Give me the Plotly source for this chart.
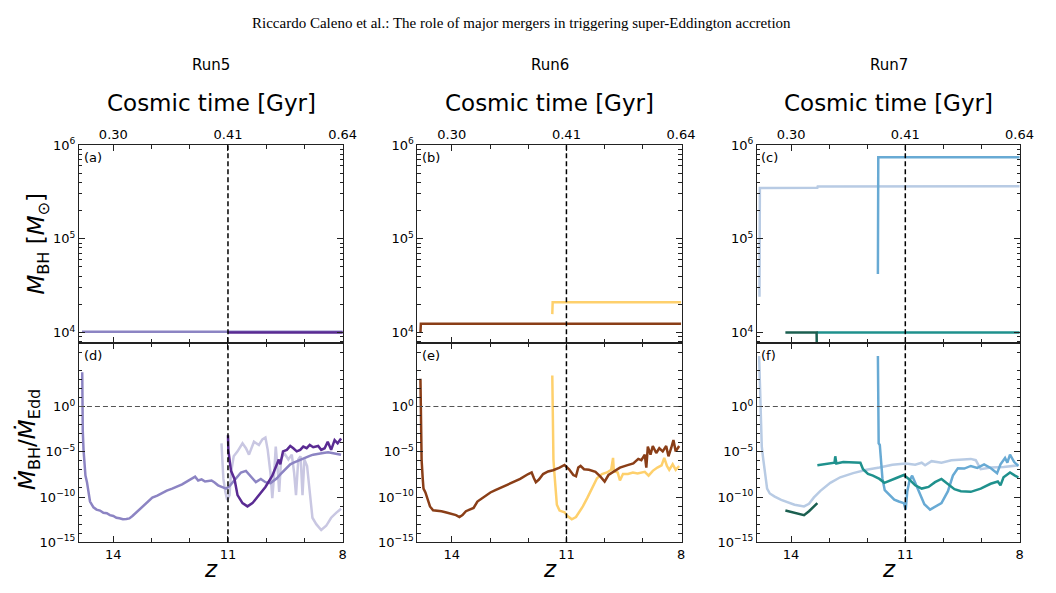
import plotly.graph_objects as go

# ---------------- data ----------------
RUN_NAMES = ["Run5", "Run6", "Run7"]
PANEL_TOP = ["(a)", "(b)", "(c)"]
PANEL_BOT = ["(d)", "(e)", "(f)"]
Z_TICKS = [14, 11, 8]
Z_MINOR = [13, 12, 10, 9]
COSMIC_LABELS = ["0.30", "0.41", "0.64"]
MERGER_Z = 11.0
EDD_RATIO = 1.0

# ---- Run5 ----
r5_mid_mz = [14.82, 8.0]
r5_mid_m = [1.02e4, 1.02e4]
r5_dark_mz = [11.0, 8.0]
r5_dark_m = [1.0e4, 1.0e4]

r5_mid_z = [14.814, 14.81, 14.80, 14.78, 14.76, 14.73, 14.69, 14.65, 14.61, 14.52, 14.44, 14.35, 14.26, 14.17,
            14.09, 14.0, 13.92, 13.84, 13.75, 13.66, 13.58, 13.5, 13.41, 13.32, 13.23, 13.1, 12.98, 12.85, 12.72,
            12.6, 12.46, 12.33, 12.2, 12.08, 11.95, 11.86, 11.78, 11.69, 11.6, 11.5, 11.43, 11.35, 11.26, 11.15,
            11.05, 10.96, 10.87, 10.76, 10.66, 10.53, 10.45, 10.36, 10.27, 10.14, 10.02, 9.89, 9.8, 9.72, 9.63,
            9.54, 9.45, 9.37, 9.28, 9.2, 9.07, 8.94, 8.86, 8.77, 8.64, 8.51, 8.38, 8.26, 8.15, 8.04]
r5_mid_log = [3.79, -0.14, -2.64, -4.79, -6.21, -7.64, -8.36, -9.61, -10.5, -11.14, -11.39, -11.5, -11.75, -11.8,
              -12.0, -12.1, -12.29, -12.35, -12.46, -12.42, -12.36, -12.1, -11.75, -11.4, -11.04, -10.5, -10.07,
              -9.85, -9.54, -9.3, -9.07, -8.85, -8.61, -8.3, -7.93, -7.75, -8.18, -8.05, -8.29, -8.2, -8.18, -8.4,
              -8.71, -8.9, -9.07, -8.8, -8.36, -7.8, -7.29, -7.11, -7.46, -7.9, -8.36, -8.0, -8.36, -8.46, -8.2,
              -7.93, -7.5, -7.11, -6.7, -6.39, -6.2, -6.04, -5.8, -5.57, -5.45, -5.32, -5.2, -5.14, -5.05, -5.14,
              -5.25, -5.32]

r5_dark_z = [11.0, 10.99, 10.95, 10.92, 10.83, 10.75, 10.62, 10.49, 10.36, 10.19, 10.02, 9.84, 9.76, 9.67, 9.63,
             9.56, 9.46, 9.37, 9.29, 9.2, 9.11, 9.03, 8.94, 8.86, 8.77, 8.64, 8.56, 8.47, 8.39, 8.3, 8.21, 8.13,
             8.04]
r5_dark_log = [-3.18, -4.79, -6.21, -7.11, -8.0, -9.79, -10.68, -11.04, -10.68, -9.79, -8.89, -7.64, -6.75, -5.86,
               -6.39, -4.96, -4.79, -4.36, -4.61, -4.96, -4.79, -4.43, -4.61, -4.25, -4.5, -4.36, -4.79, -4.61,
               -3.89, -4.79, -3.71, -4.07, -3.54]

r5_light_z = [11.17, 11.15, 11.12, 11.07, 11.02, 10.96, 10.92, 10.85, 10.75, 10.62, 10.53, 10.45, 10.32, 10.19,
              10.1, 10.02, 9.96, 9.89, 9.84, 9.8, 9.75, 9.7, 9.66, 9.61, 9.53, 9.42, 9.33, 9.27, 9.22, 9.16, 9.1,
              9.05, 9.0, 8.93, 8.86, 8.79, 8.69, 8.56, 8.43, 8.3, 8.17, 8.04]
r5_light_log = [-4.07, -5.86, -8.0, -9.43, -10.32, -9.79, -7.29, -5.5, -4.96, -4.07, -4.61, -5.32, -3.89, -4.25,
                -3.64, -3.43, -4.79, -7.29, -10.14, -8.0, -4.43, -6.93, -9.43, -5.86, -5.14, -5.86, -5.32, -7.29,
                -9.79, -5.86, -5.5, -9.79, -5.86, -6.57, -9.79, -12.29, -13.0, -13.64, -13.18, -12.29, -11.75,
                -11.29]

# ---- Run6 ----
r6_brown_mz = [14.82, 14.81, 8.0]
r6_brown_m = [9.9e3, 1.24e4, 1.24e4]
r6_yellow_mz = [11.37, 11.36, 8.0]
r6_yellow_m = [1.57e4, 2.1e4, 2.1e4]

r6_brown_z = [14.82, 14.81, 14.81, 14.79, 14.76, 14.74, 14.69, 14.63, 14.57, 14.49, 14.36, 14.27, 14.14, 14.02,
              13.89, 13.8, 13.72, 13.63, 13.54, 13.43, 13.33, 13.16, 12.99, 12.86, 12.73, 12.6, 12.47, 12.34,
              12.21, 12.0, 11.91, 11.85, 11.8, 11.72, 11.61, 11.48, 11.35, 11.18, 11.05, 10.93, 10.82, 10.75,
              10.69, 10.63, 10.54, 10.41, 10.24, 10.11, 10.0, 9.9, 9.77, 9.6, 9.42, 9.25, 9.12, 9.04, 8.95, 8.91,
              8.87, 8.8, 8.74, 8.65, 8.57, 8.48, 8.39, 8.33, 8.26, 8.2, 8.14, 8.05]
r6_brown_log = [3.07, -0.14, -3.71, -5.86, -8.0, -9.07, -9.5, -10.32, -11.04, -11.46, -11.5, -11.57, -11.71,
                -11.86, -12.0, -12.21, -12.0, -11.57, -11.39, -11.21, -10.5, -9.96, -9.5, -9.25, -9.0, -8.8, -8.54,
                -8.3, -8.0, -7.46, -7.29, -7.93, -8.36, -8.07, -7.46, -7.18, -7.04, -6.75, -6.46, -6.93, -7.57,
                -7.71, -6.75, -6.57, -6.93, -7.0, -7.21, -7.75, -8.29, -7.57, -7.21, -6.75, -6.5, -6.29, -5.79,
                -5.93, -5.32, -6.75, -4.43, -5.32, -4.36, -5.14, -4.61, -4.96, -4.36, -5.5, -4.61, -3.71, -4.96,
                -4.36]

r6_yellow_z = [11.37, 11.35, 11.34, 11.31, 11.29, 11.25, 11.18, 11.05, 10.97, 10.86, 10.75, 10.67, 10.57, 10.45,
               10.32, 10.2, 10.07, 9.94, 9.83, 9.78, 9.76, 9.66, 9.6, 9.52, 9.39, 9.26, 9.14, 8.95, 8.85, 8.74,
               8.62, 8.51, 8.44, 8.37, 8.31, 8.22, 8.14, 8.05]
r6_yellow_log = [3.43, -1.93, -5.86, -7.64, -8.89, -10.86, -11.5, -11.68, -12.11, -12.46, -12.21, -11.75, -11.04,
                 -10.07, -8.89, -7.93, -7.46, -7.29, -7.0, -5.68, -7.11, -7.29, -8.18, -7.46, -7.46, -7.29, -7.39,
                 -7.21, -7.64, -7.11, -6.75, -6.5, -5.68, -6.57, -7.0, -6.39, -7.0, -6.57]

# ---- Run7 ----
r7_lblue_mz = [14.83, 14.82, 13.31, 13.30, 8.0]
r7_lblue_m = [2.4e4, 3.48e5, 3.5e5, 3.61e5, 3.62e5]
r7_mblue_mz = [11.72, 11.71, 8.0]
r7_mblue_m = [4.2e4, 7.4e5, 7.4e5]
r7_teal_mz = [13.33, 8.0]
r7_teal_m = [1.0e4, 1.0e4]
r7_dgreen_mz = [14.15, 13.33, 13.32]
r7_dgreen_m = [1.0e4, 1.0e4, 5.0e3]

r7_lblue_z = [14.84, 14.82, 14.8, 14.77, 14.73, 14.69, 14.63, 14.56, 14.43, 14.26, 14.08, 13.91, 13.66, 13.53,
              13.4, 13.23, 12.97, 12.71, 12.37, 12.02, 11.68, 11.34, 10.99, 10.74, 10.57, 10.48, 10.31, 10.05,
              9.79, 9.54, 9.28, 9.15, 9.02, 8.76, 8.42, 8.03]
r7_lblue_log = [5.57, 1.64, -2.29, -4.43, -5.86, -7.29, -9.07, -9.61, -9.96, -10.32, -10.57, -10.86, -11.04,
                -10.75, -10.04, -9.32, -8.43, -7.82, -7.36, -7.0, -6.75, -6.43, -6.29, -6.43, -6.21, -6.5, -6.04,
                -6.21, -5.93, -5.86, -5.79, -5.93, -6.93, -6.75, -6.68, -6.5]

r7_mblue_z = [11.72, 11.71, 11.7, 11.67, 11.66, 11.63, 11.6, 11.54, 11.42, 11.29, 11.17, 11.04, 10.99, 10.95,
              10.89, 10.82, 10.74, 10.63, 10.5, 10.35, 10.22, 10.05, 9.88, 9.75, 9.62, 9.45, 9.28, 9.11, 8.93,
              8.76, 8.59, 8.5, 8.38, 8.32, 8.25, 8.14, 8.03]
r7_mblue_log = [5.57, -0.14, -4.07, -4.25, -4.79, -6.93, -8.0, -9.25, -9.79, -10.29, -10.5, -10.68, -11.39, -9.43,
                -8.18, -7.64, -8.43, -9.5, -10.79, -11.39, -11.04, -10.68, -9.36, -7.64, -6.82, -6.86, -6.57,
                -6.79, -6.39, -6.79, -7.36, -6.39, -5.68, -6.21, -5.32, -6.14, -6.57]

r7_teal_z = [13.31, 13.05, 12.86, 12.84, 12.81, 12.63, 12.37, 12.18, 12.11, 11.98, 11.85, 11.68, 11.55, 11.42,
             11.25, 11.04, 10.91, 10.74, 10.57, 10.39, 10.22, 10.05, 9.88, 9.71, 9.54, 9.28, 9.02, 8.76, 8.57,
             8.5, 8.42, 8.25, 8.12, 8.03]
r7_teal_log = [-6.5, -6.29, -6.21, -5.5, -6.29, -6.14, -6.14, -6.21, -6.93, -7.46, -7.64, -8.0, -8.43, -8.18,
               -7.93, -7.57, -8.0, -8.71, -9.07, -8.89, -8.36, -8.0, -8.54, -9.14, -9.36, -9.43, -9.07, -8.54,
               -8.29, -8.71, -7.82, -7.29, -7.64, -7.82]

r7_dgreen_z = [14.15, 13.99, 13.83, 13.66, 13.53, 13.4, 13.31]
r7_dgreen_log = [-11.5, -11.64, -11.86, -12.0, -11.57, -11.04, -10.68]

# series per run: (colour, width, mass z, mass, accretion z, log10 accretion)
RUN_SERIES = [
    [("#c9c7e2", 2.5, None, None, r5_light_z, r5_light_log),
     ("#8c84c3", 2.5, r5_mid_mz, r5_mid_m, r5_mid_z, r5_mid_log),
     ("#5a2b93", 2.5, r5_dark_mz, r5_dark_m, r5_dark_z, r5_dark_log)],
    [("#fed06c", 2.5, r6_yellow_mz, r6_yellow_m, r6_yellow_z, r6_yellow_log),
     ("#8a3e17", 2.5, r6_brown_mz, r6_brown_m, r6_brown_z, r6_brown_log)],
    [("#b8cbe4", 2.5, r7_lblue_mz, r7_lblue_m, r7_lblue_z, r7_lblue_log),
     ("#68aad4", 2.5, r7_mblue_mz, r7_mblue_m, r7_mblue_z, r7_mblue_log),
     ("#1f918d", 2.5, r7_teal_mz, r7_teal_m, r7_teal_z, r7_teal_log),
     ("#1b5f50", 2.5, r7_dgreen_mz, r7_dgreen_m, r7_dgreen_z, r7_dgreen_log)],
]

# ---------------- layout geometry ----------------
W, H = 1056, 593
X_DOM = [(80 / W, 348 / W), (423 / W, 691 / W), (767 / W, 1034 / W)]
Y_TOP = (1 - 344 / H, 1 - 140 / H)
Y_BOT = (1 - 549 / H, 1 - 344 / H)
X_RANGE = [14.9, 7.98]
FONT = "DejaVu Sans"
AX_COL = "#222"


def sfx(n):
    return "" if n == 1 else str(n)


fig = go.Figure()

for c in range(3):
    xt, yt = "x" + sfx(c + 1), "y" + sfx(c + 1)
    xb, yb = "x" + sfx(c + 4), "y" + sfx(c + 4)
    for col, w, mz, m, az, alog in RUN_SERIES[c]:
        if mz is not None:
            fig.add_trace(go.Scatter(x=mz, y=m, mode="lines", line=dict(color=col, width=w),
                                     xaxis=xt, yaxis=yt, hoverinfo="skip"))
        fig.add_trace(go.Scatter(x=az, y=[10 ** v for v in alog], mode="lines",
                                 line=dict(color=col, width=w), xaxis=xb, yaxis=yb, hoverinfo="skip"))

top_minor = [v * 10 ** e for e in (3, 4, 5) for v in range(2, 10) if 7.7e3 <= v * 10 ** e < 1e6]
bot_minor = [10.0 ** e for e in range(-14, 7) if e % 5 != 0]

common_ax = dict(showline=True, linecolor=AX_COL, linewidth=1, mirror="ticks", ticks="inside",
                 tickcolor=AX_COL, showgrid=False, zeroline=False,
                 tickfont=dict(family=FONT, size=13, color="black"))

layout = dict(width=W, height=H, margin=dict(l=0, r=0, t=0, b=0), paper_bgcolor="white",
              plot_bgcolor="white", showlegend=False)

for c in range(3):
    t, b = sfx(c + 1), sfx(c + 4)
    layout["xaxis" + t] = dict(common_ax, domain=X_DOM[c], anchor="y" + t, side="top",
                               range=X_RANGE, tickvals=Z_TICKS, ticktext=COSMIC_LABELS, ticklen=6,
                               minor=dict(tickvals=Z_MINOR, ticks="inside", ticklen=4, tickcolor=AX_COL))
    layout["yaxis" + t] = dict(common_ax, domain=Y_TOP, anchor="x" + t, type="log",
                               range=[3.886, 6], tickvals=[1e4, 1e5, 1e6],
                               ticktext=["10<sup>4</sup>", "10<sup>5</sup>", "10<sup>6</sup>"], ticklen=6,
                               minor=dict(tickvals=top_minor, ticks="inside", ticklen=3.5, tickcolor=AX_COL))
    layout["xaxis" + b] = dict(common_ax, domain=X_DOM[c], anchor="y" + b, side="bottom",
                               range=X_RANGE, tickvals=Z_TICKS, ticktext=[str(v) for v in Z_TICKS],
                               ticklen=6,
                               minor=dict(tickvals=Z_MINOR, ticks="inside", ticklen=4, tickcolor=AX_COL))
    layout["yaxis" + b] = dict(common_ax, domain=Y_BOT, anchor="x" + b, type="log",
                               range=[-15, 7], tickvals=[1e-15, 1e-10, 1e-5, 1],
                               ticktext=["10<sup>−15</sup>", "10<sup>−10</sup>", "10<sup>−5</sup>",
                                         "10<sup>0</sup>"], ticklen=6,
                               minor=dict(tickvals=bot_minor, ticks="inside", ticklen=3.5, tickcolor=AX_COL))

fig.update_layout(**layout)


def txt(text, x, y, size, family=FONT, angle=0):
    return dict(text=text, xref="paper", yref="paper", x=x, y=y, xanchor="center", yanchor="middle",
                showarrow=False, textangle=angle, font=dict(family=family, size=size, color="black"))


shapes = []
annots = []
for c in range(3):
    t, b = sfx(c + 1), sfx(c + 4)
    shapes.append(dict(type="line", xref="x" + b, yref="paper", x0=MERGER_Z, x1=MERGER_Z,
                       y0=Y_BOT[0], y1=Y_TOP[1], line=dict(color="black", width=1.5, dash="5px,3px")))
    shapes.append(dict(type="line", xref="x" + b + " domain", yref="y" + b, x0=0, x1=1,
                       y0=EDD_RATIO, y1=EDD_RATIO, line=dict(color="#555", width=1.2, dash="5px,3px")))
    xc = (X_DOM[c][0] + X_DOM[c][1]) / 2
    annots.append(txt(RUN_NAMES[c], xc, 1 - 58 / H, 15))
    annots.append(txt("Cosmic time [Gyr]", xc, 1 - 97 / H, 23))
    annots.append(txt("<i>z</i>", xc, 1 - 577 / H, 23))
    annots.append(dict(text=PANEL_TOP[c], xref="x" + t + " domain", yref="y" + t + " domain", x=0.01, y=0.985,
                       xanchor="left", yanchor="top", showarrow=False,
                       font=dict(family=FONT, size=13, color="black")))
    annots.append(dict(text=PANEL_BOT[c], xref="x" + b + " domain", yref="y" + b + " domain", x=0.01, y=0.985,
                       xanchor="left", yanchor="top", showarrow=False,
                       font=dict(family=FONT, size=13, color="black")))

annots.append(txt("Riccardo Caleno et al.: The role of major mergers in triggering super-Eddington accretion",
                  0.5, 1 - 14 / H, 15, family="Liberation Serif"))
annots.append(txt("<i>M</i><sub>BH</sub> [<i>M</i><sub>⊙</sub>]", 39 / W, 1 - 241 / H, 23, angle=-90))
annots.append(txt("<i>Ṁ</i><sub>BH</sub>/<i>Ṁ</i><sub>Edd</sub>", 29 / W, 1 - 443 / H, 23, angle=-90))

fig.update_layout(shapes=shapes, annotations=annots)
fig.write_html("out.html")
